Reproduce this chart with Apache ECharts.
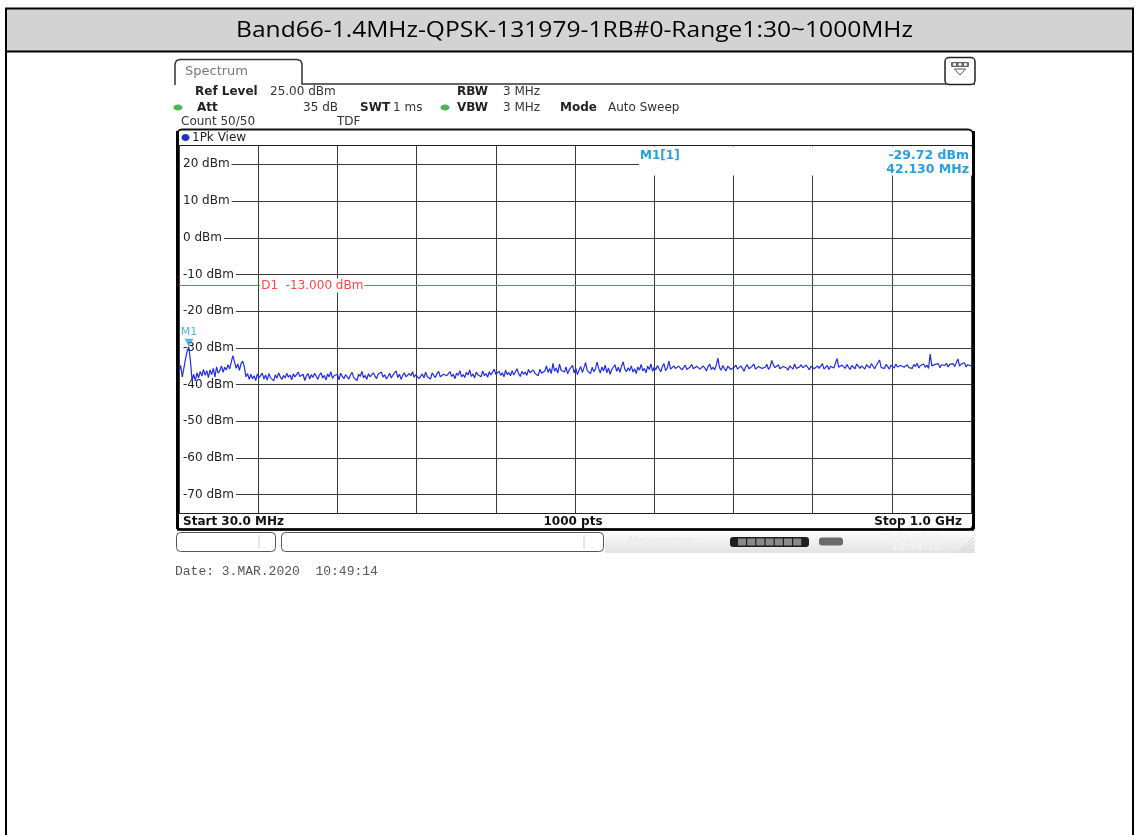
<!DOCTYPE html>
<html><head><meta charset="utf-8">
<script src="https://cdn.jsdelivr.net/npm/echarts@6/dist/echarts.min.js"></script>
<style>html,body{margin:0;padding:0;background:#fff;}#c{width:1136px;height:835px;}</style>
</head><body><div id="c"></div><script>
// ---------- data ----------
const chartTitle = 'Band66-1.4MHz-QPSK-131979-1RB#0-Range1:30~1000MHz';
const startMHz = 30;
const stopMHz = 1000;
const refLevelDbm = 25;
const bottomLevelDbm = -75;
const yTickValues = [20, 10, 0, -10, -20, -30, -40, -50, -60, -70];
const yTickLabels = ['20 dBm', '10 dBm', '0 dBm', '-10 dBm', '-20 dBm', '-30 dBm', '-40 dBm', '-50 dBm', '-60 dBm', '-70 dBm'];
const limitD1Dbm = -13;
const markerM1 = [42.13, -29.72]; // MHz, dBm
// trace (dBm), evenly spaced sweep points (2 MHz apart) from startMHz to stopMHz
const traceDbm = [
-36.5,-34.8,-37.9,-35.5,-33.0,-30.8,-29.7,-33.5,-38.9,-37.2,-39.0,-36.8,-38.2,-36.4,-37.7,-35.9,-37.5,-36.2,-38.1,-36.0,
-37.3,-35.6,-38.0,-35.2,-36.9,-36.2,-34.9,-36.7,-35.3,-36.0,-34.6,-35.8,-33.9,-32.1,-33.8,-35.6,-34.4,-36.1,-34.3,-33.6,
-35.2,-37.9,-37.0,-38.6,
-37.2,-38.4,-37.6,-38.9,-37.1,-38.2,-37.8,-36.9,-38.5,-37.4,-38.8,-37.0,-38.1,-37.7,-39.0,-37.3,-38.3,-36.8,-37.9,-38.6,
-37.5,-38.2,-36.9,-38.0,-37.4,-38.7,-37.1,-37.9,-38.4,-36.6,-37.8,-38.3,-37.2,-38.9,-37.6,-37.0,-38.5,-37.3,-38.1,-36.9,
-37.7,-38.6,-37.4,-36.8,-38.2,-37.5,-38.8,-37.1,-37.9,-36.5,-38.3,-37.6,-38.0,-37.2,-38.7,-36.9,-37.8,-38.4,-37.3,-37.0,
-38.5,-37.4,-36.7,-38.1,-37.6,-38.9,-37.2,-37.8,-36.4,-38.2,-37.5,-38.6,-37.0,-37.9,-38.3,-36.8,-37.7,-38.4,-37.1,-37.6,
-36.6,-38.0,-37.3,-38.5,-37.8,-36.9,-38.2,-37.4,-37.9,-36.3,-38.1,-37.2,-38.6,-37.5,-36.8,-37.9,-38.3,-37.0,-37.6,-36.5,
-38.0,-37.3,-36.9,-38.4,-37.7,-37.1,-38.2,-36.6,-37.8,-37.4,-38.5,-36.8,-37.5,-38.1,-37.0,-36.4,-37.9,-38.3,-37.2,-36.9,
-37.6,-38.0,-36.5,-37.8,-37.2,-38.4,-36.9,-37.5,-36.2,-37.9,-37.3,-38.1,-36.7,-37.4,-36.0,-37.8,-37.1,-38.2,-36.6,-37.3,
-36.8,-37.9,-36.3,-37.6,-37.0,-38.0,-36.5,-37.4,-36.9,-35.8,-37.2,-37.7,-36.4,-37.5,-36.8,-37.9,-36.1,-37.3,-36.7,-37.6,
-36.2,-37.4,-36.9,-35.7,-37.1,-37.8,-36.4,-37.2,-36.6,-37.5,-35.9,-36.8,-37.3,-36.0,-37.0,-36.5,-37.6,-35.8,-36.9,-37.2,
-36.3,-34.9,-36.7,-35.6,-37.0,-34.2,-36.4,-35.5,-36.9,-34.4,-36.1,-35.8,
-36.6,-35.2,-37.1,-35.9,-36.4,-34.8,-36.8,-35.5,-37.3,-36.0,-35.1,-36.7,-35.4,-34.0,-36.2,-35.7,-37.0,-35.3,-36.5,-35.8,
-33.9,-35.6,-36.9,-35.2,-36.3,-34.7,-36.8,-35.5,-37.2,-35.9,-36.1,-34.6,-36.4,-35.3,-36.7,-35.0,-33.8,-35.8,-36.5,-35.4,
-36.2,-34.9,-36.6,-35.7,-37.0,-35.2,-36.1,-34.5,-36.3,-35.6,-36.8,-35.0,-35.9,-34.4,-36.4,-35.3,-36.0,-34.8,-35.7,-36.5,
-35.1,-34.3,-36.2,-35.5,-33.6,-35.8,-36.3,-34.9,-35.6,-36.1,-35.0,-34.6,-36.0,-35.4,-34.7,-35.9,-36.4,-35.2,-34.5,-35.7,
-36.2,-35.0,-34.6,-35.8,-36.1,-34.9,-35.5,-36.3,-35.1,-34.4,-35.9,-35.3,-36.0,-34.7,-32.8,
-35.4,-36.1,-34.8,-35.6,-36.3,-35.0,-34.5,-35.9,-36.2,-35.3,-34.7,-35.8,-36.0,-34.9,-35.5,-36.4,-35.2,-34.6,-35.7,-36.1,
-35.0,-34.4,-35.8,-36.2,-35.1,-34.8,-35.6,-36.0,-35.3,-34.5,-35.9,-35.2,-33.4,-34.7,-35.4,-35.9,-34.6,-35.7,-36.0,-35.1,
-34.8,-35.5,-36.1,-34.9,-35.3,-35.8,-34.4,-35.6,-36.0,-35.2,-34.6,-35.4,-35.9,-34.7,-35.3,-36.0,-35.0,-34.5,-35.7,-35.2,
-34.9,-35.6,-35.1,-34.3,-35.8,-35.4,-34.8,-35.9,-35.0,-34.6,-35.5,-35.2,-32.9,-35.3,-35.8,-34.7,-35.1,-35.6,-34.5,-35.3,
-35.9,-34.8,-35.2,-35.7,-34.4,-35.0,-35.6,-34.9,-35.3,-35.8,-34.6,-35.1,-35.5,-34.3,-35.0,-35.7,-34.8,-35.2,-33.3,-35.4,
-34.9,-35.6,-34.5,-35.1,-35.8,-34.7,-35.0,-35.5,-34.4,-35.2,-35.7,-34.8,-34.3,-35.3,-35.0,-34.6,-35.4,-34.9,-35.6,-34.5,
-35.1,-34.2,-35.5,-34.8,-35.0,-34.4,-35.3,-34.7,-35.6,-31.7,-34.9,-35.2,-34.5,-35.0,-34.3,-35.4,-34.6,-35.1,-34.8,-34.2,
-35.2,-34.5,-34.9,-34.3,-35.1,-34.6,-33.0,-35.0,-34.4,-34.8,-34.1,-35.2,-34.6,-34.3,-34.9
];
const startLabel = 'Start 30.0 MHz';
const pointsLabel = '1000 pts';
const stopLabel = 'Stop 1.0 GHz';
const dateLabel = 'Date: 3.MAR.2020  10:49:14';

// ---------- chart ----------
const chart = echarts.init(document.getElementById('c'));
const span = stopMHz - startMHz;
const nPts = traceDbm.length;
const traceData = traceDbm.map((v, i) => [i * span / (nPts - 1), v]);
const F = '"DejaVu Sans"';
const GRID = '#3a3a3a';
const MK = '#2a9fe0';

chart.setOption({
  backgroundColor: '#fff',
  animation: false,
  grid: { left: 179, top: 146, width: 792, height: 367, show: false },
  xAxis: {
    type: 'value', min: 0, max: span, interval: span / 10,
    axisLine: { show: false }, axisTick: { show: false }, axisLabel: { show: false },
    splitLine: { show: true, lineStyle: { color: GRID, width: 1 } }
  },
  yAxis: {
    type: 'value', min: bottomLevelDbm, max: refLevelDbm, interval: 5,
    axisLine: { show: false }, axisTick: { show: false }, axisLabel: { show: false },
    splitLine: { show: true, lineStyle: { color: ['rgba(0,0,0,0)', GRID], width: 1 } }
  },
  series: [
    {
      type: 'line', data: traceData, showSymbol: false, silent: true, z: 3,
      lineStyle: { color: '#1f2de6', width: 1.2 },
      markLine: {
        silent: true, symbol: 'none', label: { show: false },
        lineStyle: { color: '#ff4646', width: 1, type: 'solid' },
        data: [{ yAxis: limitD1Dbm }]
      }
    },
    {
      type: 'scatter', z: 4, silent: true,
      data: [[markerM1[0] - startMHz, markerM1[1]]],
      symbol: 'triangle', symbolRotate: 180, symbolSize: [9, 8], symbolOffset: [0, -4],
      itemStyle: { color: MK },
      label: { show: true, position: 'top', formatter: 'M1', color: MK, fontSize: 11, fontFamily: 'DejaVu Sans', distance: 1 }
    }
  ]
});

function T(x, y, text, st, z) {
  return { type: 'text', x: x, y: y, z: z == null ? 10 : z, silent: true,
    style: Object.assign({ text: text, fill: '#222', font: '12px ' + F, textVerticalAlign: 'middle' }, st || {}) };
}
function L(x1, y1, x2, y2, color, w, z) {
  return { type: 'line', z: z == null ? 6 : z, silent: true, shape: { x1: x1, y1: y1, x2: x2, y2: y2 }, style: { stroke: color, lineWidth: w } };
}
function R(x, y, w, h, st, r, z) {
  return { type: 'rect', z: z == null ? 5 : z, silent: true, shape: { x: x, y: y, width: w, height: h, r: r || 0 }, style: st };
}

const els = [];
// page frame + title band
els.push(R(6, 8.5, 1127, 43, { fill: '#d3d3d3', stroke: '#000', lineWidth: 2 }, 0, 10));
els.push(L(6, 51, 6, 835, '#000', 2, 10));
els.push(L(1133, 51, 1133, 835, '#000', 2, 10));
const titleEl = T(574.5, 31, chartTitle, { font: '22px "Open Sans"', fill: '#000', textAlign: 'center' }, 11);
titleEl.scaleX = 1.117;
els.push(titleEl);

// spectrum tab + header
els.push({ type: 'polyline', z: 6, silent: true, shape: { points: [[175, 85], [175, 64], [176.5, 60.5], [180, 59.5], [297, 59.5], [300.5, 60.5], [302, 64], [302, 84], [975, 84]] }, style: { stroke: '#333', lineWidth: 1.5, fill: null } });
els.push(T(185, 71.5, 'Spectrum', { fill: '#777', font: '13px ' + F }));
els.push(R(945, 57.5, 30, 27, { fill: '#fff', stroke: '#222', lineWidth: 1.5 }, 4, 7));
els.push(R(951, 62, 18, 5, { fill: '#666' }, 1, 8));
els.push(R(953, 63.3, 3, 2.4, { fill: '#fff' }, 0, 9));
els.push(R(958.5, 63.3, 3, 2.4, { fill: '#fff' }, 0, 9));
els.push(R(964, 63.3, 3, 2.4, { fill: '#fff' }, 0, 9));
els.push({ type: 'polygon', z: 8, silent: true, shape: { points: [[954.5, 69], [965.5, 69], [960, 75]] }, style: { fill: '#fff', stroke: '#555', lineWidth: 1 } });

const B = 'bold 12px ' + F, N = '12px ' + F;
els.push(T(195, 92, 'Ref Level', { font: B }));
els.push(T(270, 92, '25.00 dBm', { font: N, fill: '#333' }));
els.push(T(457, 92, 'RBW', { font: B }));
els.push(T(503, 92, '3 MHz', { font: N, fill: '#333' }));
els.push({ type: 'ellipse', z: 8, silent: true, shape: { cx: 178, cy: 107.5, rx: 4.5, ry: 3 }, style: { fill: '#4fb34f' } });
els.push(T(197, 107.5, 'Att', { font: B }));
els.push(T(338, 107.5, '35 dB', { font: N, fill: '#333', textAlign: 'right' }));
els.push(T(360, 107.5, 'SWT', { font: B }));
els.push(T(393, 107.5, '1 ms', { font: N, fill: '#333' }));
els.push({ type: 'ellipse', z: 8, silent: true, shape: { cx: 445, cy: 107.5, rx: 4.5, ry: 3 }, style: { fill: '#4fb34f' } });
els.push(T(457, 107.5, 'VBW', { font: B }));
els.push(T(503, 107.5, '3 MHz', { font: N, fill: '#333' }));
els.push(T(560, 107.5, 'Mode', { font: B }));
els.push(T(608, 107.5, 'Auto Sweep', { font: N, fill: '#333' }));
els.push(T(181, 121.5, 'Count 50/50', { font: N, fill: '#333' }));
els.push(T(337, 121.5, 'TDF', { font: N, fill: '#333' }));

// diagram frame
els.push(R(177, 129.5, 796, 400, { fill: null, stroke: '#111', lineWidth: 2 }, 5, 7));
els.push(L(177.5, 131, 177.5, 529, '#000', 3, 7));
els.push(L(973.5, 131, 973.5, 529, '#000', 3, 7));
els.push(L(178, 145.5, 972, 145.5, '#222', 1, 7));
els.push(L(178, 513.5, 972, 513.5, '#222', 1, 7));
els.push(L(177, 529.5, 974, 529.5, '#000', 2.5, 7));
els.push({ type: 'ellipse', z: 8, silent: true, shape: { cx: 185.5, cy: 137.5, rx: 4, ry: 3.6 }, style: { fill: '#2030c8' } });
els.push(T(192, 137.5, '1Pk View', { font: N }));
els.push(T(183, 521.5, startLabel, { font: B, fill: '#111' }));
els.push(T(573, 521.5, pointsLabel, { font: B, fill: '#111', textAlign: 'center' }));
els.push(T(962, 521.5, stopLabel, { font: B, fill: '#111', textAlign: 'right' }));

// marker readout box
els.push(R(639, 146.5, 333, 29, { fill: '#fff' }, 0, 3));
els.push(T(640, 155.5, 'M1[1]', { font: 'bold 12px ' + F, fill: MK }, 4));
els.push(T(969, 155.5, '-29.72 dBm', { font: 'bold 12.5px ' + F, fill: MK, textAlign: 'right' }, 4));
els.push(T(969, 169.5, '42.130 MHz', { font: 'bold 12.5px ' + F, fill: MK, textAlign: 'right' }, 4));

// status bar
els.push(R(176.5, 532.5, 99, 19, { fill: '#fff', stroke: '#555', lineWidth: 1 }, 4, 6));
els.push(L(259, 535, 259, 549, '#ccc', 1, 7));
els.push(R(281.5, 532.5, 322, 19, { fill: '#fff', stroke: '#555', lineWidth: 1 }, 4, 6));
els.push(L(584, 535, 584, 549, '#ccc', 1, 7));
els.push(R(605, 531, 370, 22, { fill: new echarts.graphic.LinearGradient(0, 0, 0, 1, [{ offset: 0, color: '#fdfdfd' }, { offset: 1, color: '#e2e2e2' }]) }, 0, 5));
els.push(T(628, 541.5, 'Measuring...', { font: 'bold 11px ' + F, fill: '#ececec' }, 6));
els.push(R(730, 537, 79, 10, { fill: '#1e1e1e' }, 3, 6));
for (let k = 0; k < 7; k++) els.push(R(738 + k * 9.2, 538.5, 8, 7, { fill: '#8a8a8a' }, 0, 7));
els.push(R(819, 537.5, 24, 8, { fill: '#6a6a6a' }, 3, 6));
els.push(T(910, 538, '03.03.2020', { font: 'bold 10px ' + F, fill: '#f2f2f2', textAlign: 'center' }, 6));
els.push(T(916, 547, '10:49:15', { font: 'bold 10px ' + F, fill: '#f2f2f2', textAlign: 'center' }, 6));
for (let k = 0; k < 4; k++) els.push(L(958 + k * 4, 553, 974, 537 + k * 4, '#d0d0d0', 1, 6));

els.push(T(175, 572, dateLabel, { font: '13px "Liberation Mono"', fill: '#555' }));

// y-axis labels and D1 label positioned through the axis scale
yTickValues.forEach((v, i) => {
  const p = chart.convertToPixel({ gridIndex: 0 }, [0, v]);
  els.push(T(180, p[1], yTickLabels[i], { font: N, fill: '#222', backgroundColor: '#fff', padding: [1, 2, 1, 3] }, 2));
});
const pD1 = chart.convertToPixel({ gridIndex: 0 }, [span / 10, limitD1Dbm]);
els.push(T(pD1[0] + 2, pD1[1], 'D1  ' + limitD1Dbm.toFixed(3) + ' dBm', { font: N, fill: '#ff4646', backgroundColor: '#fff', padding: [1, 1, 1, 1] }, 5));

chart.setOption({ graphic: { elements: els } });
</script></body></html>
